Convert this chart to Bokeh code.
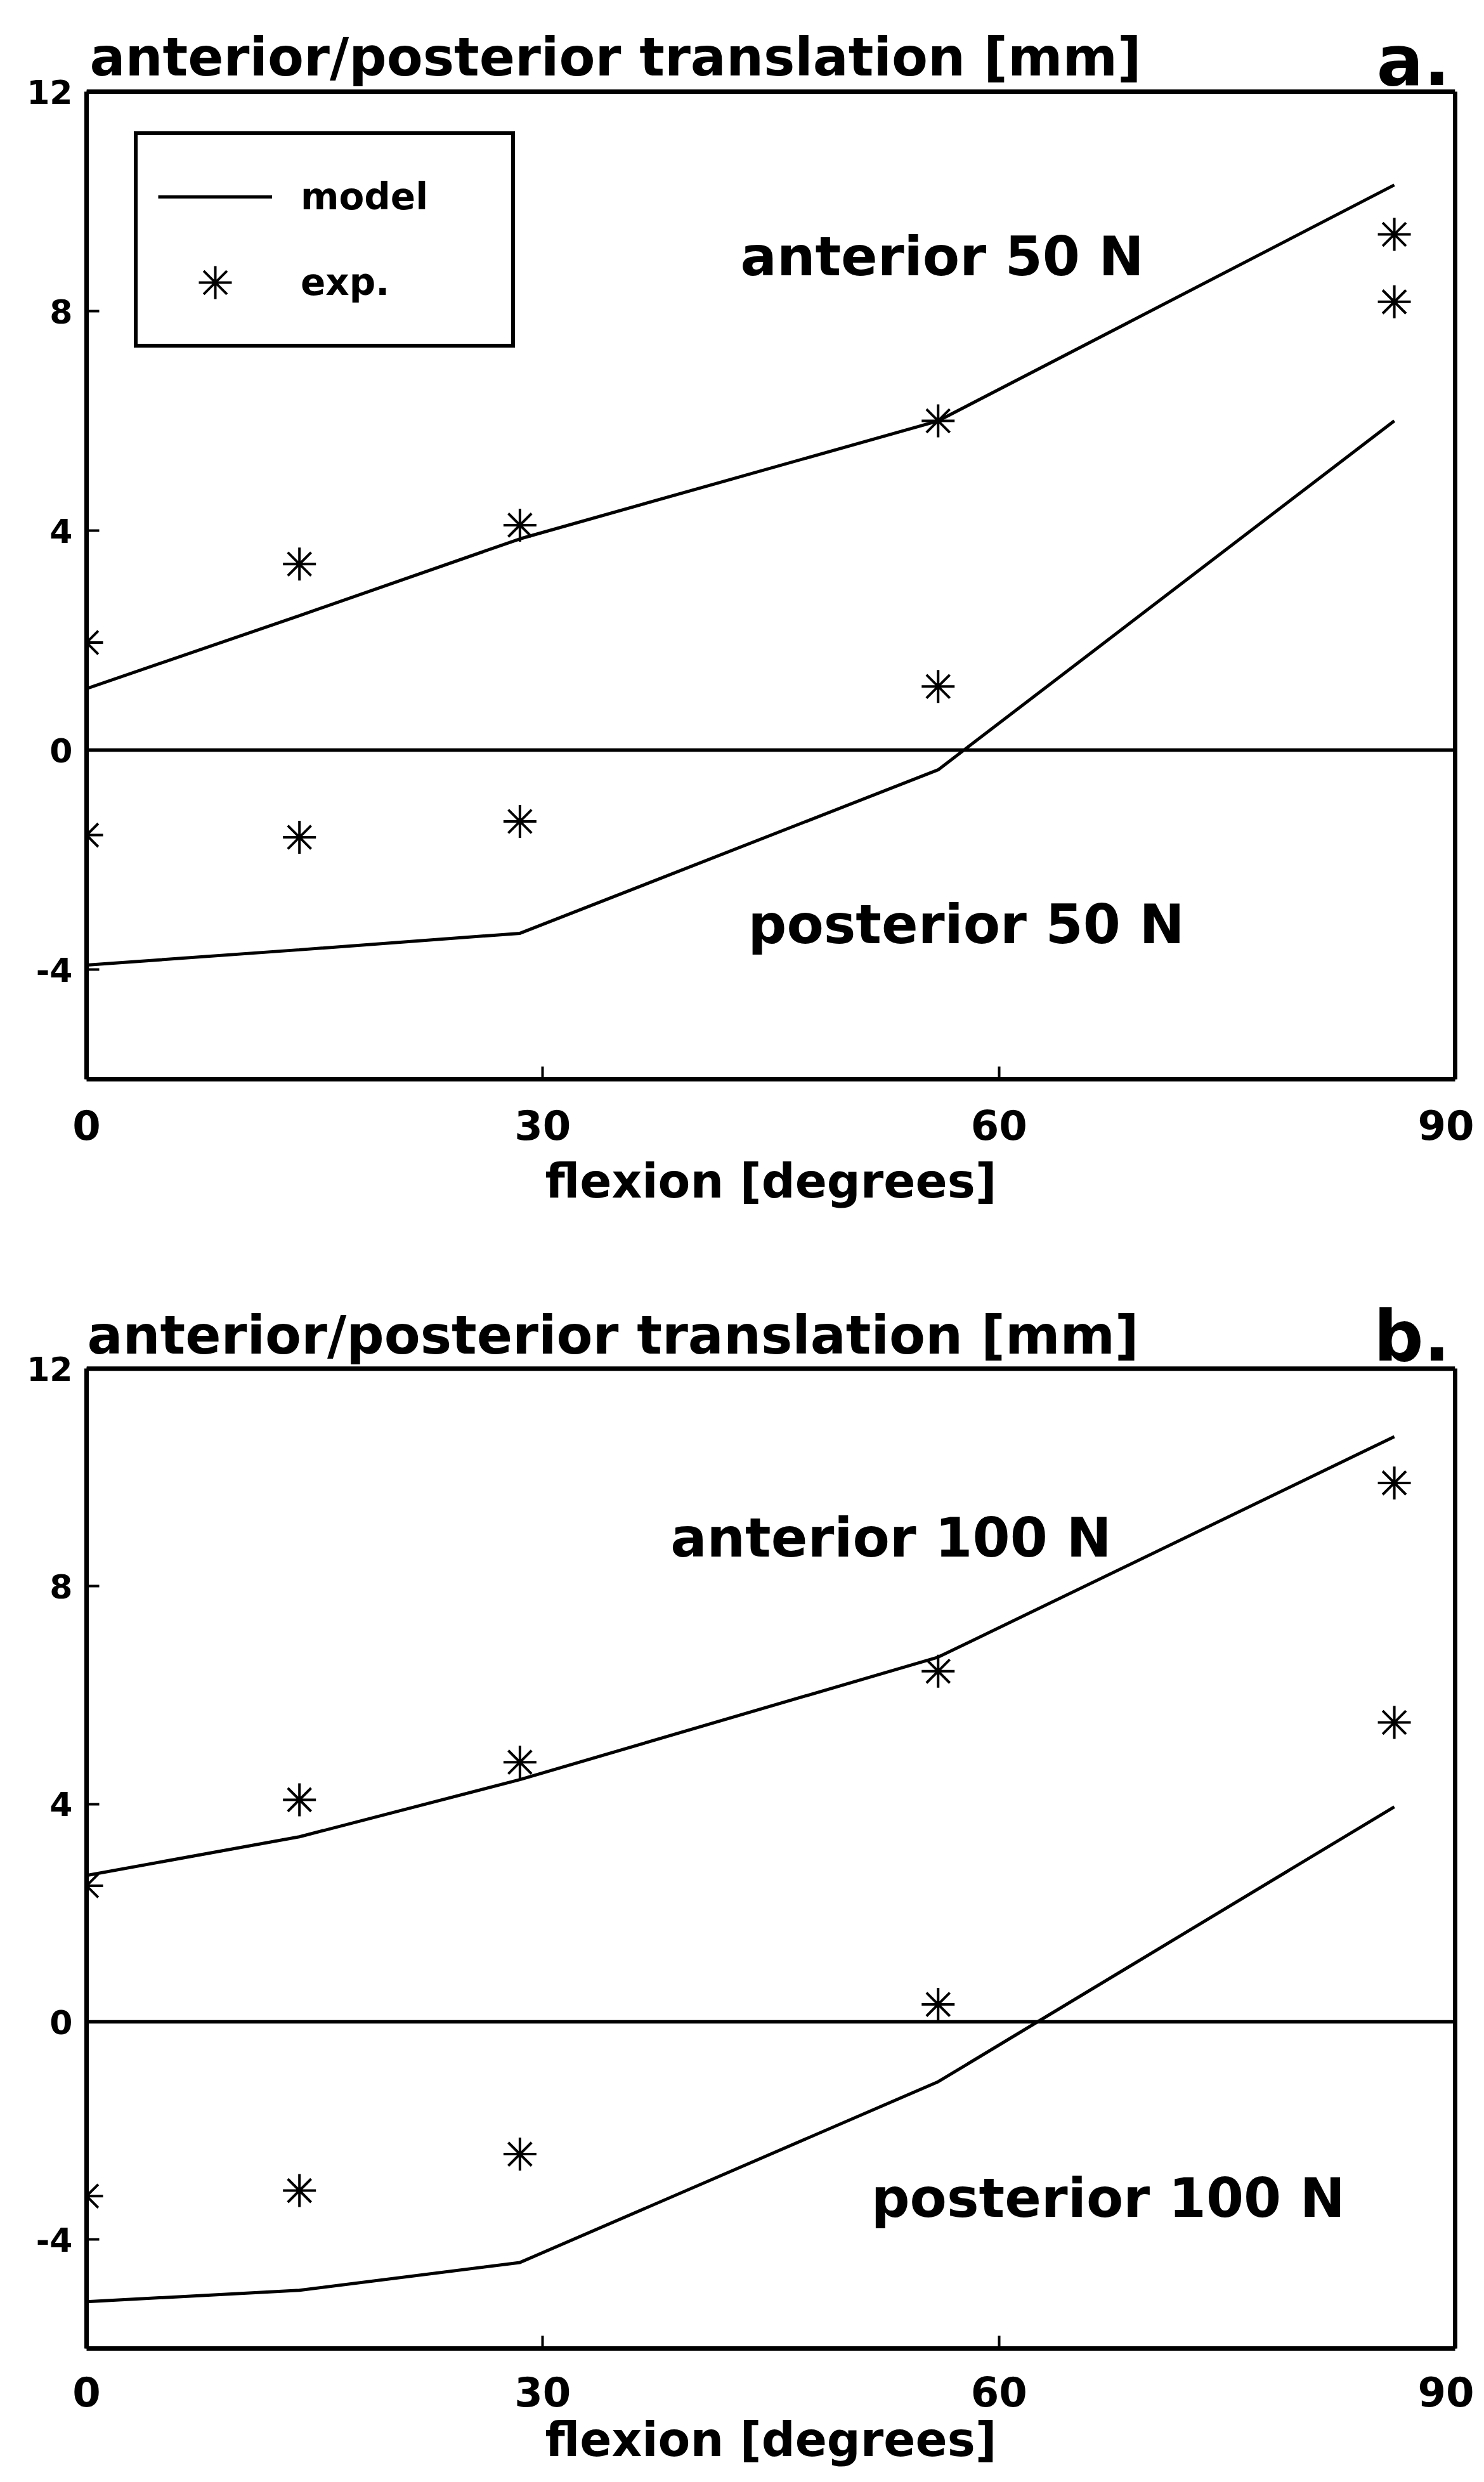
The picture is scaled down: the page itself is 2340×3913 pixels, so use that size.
from bokeh.plotting import figure
from bokeh.models import (Range1d, FixedTicker, Span, Label, Legend, LegendItem,
                          PrintfTickFormatter, LinearAxis)
from bokeh.layouts import column
from bokeh.embed import file_html
from bokeh.resources import INLINE

# ---------------- data ----------------
flexion = [0, 14, 28.5, 56, 86]          # degrees

# panel a: 50 N
a_ant_model = [1.12, 2.45, 3.85, 6.0, 10.3]
a_post_model = [-3.92, -3.64, -3.34, -0.36, 6.0]
a_ant_exp = [1.96, 3.39, 4.1, 6.0, 9.4]
a_post_exp = [-1.55, -1.59, -1.3, 1.16, 8.17]

# panel b: 100 N
b_ant_model = [2.69, 3.4, 4.45, 6.7, 10.75]
b_post_model = [-5.14, -4.93, -4.42, -1.1, 3.95]
b_ant_exp = [2.5, 4.08, 4.77, 6.44, 9.9]
b_post_exp = [-3.2, -3.1, -2.43, 0.32, 5.5]

x_ticks = [0, 30, 60, 90]
y_ticks = [-4, 0, 4, 8, 12]
y_min, y_max = -6, 12          # the boxed data area
y_title = "anterior/posterior translation [mm]"
x_title = "flexion [degrees]"

FONT = "DejaVu Sans"
BLACK = "#000000"
HEADROOM = 1.4                 # extra space above the box for the heading texts


def make_panel(letter, ant_model, post_model, ant_exp, post_exp,
               ant_text, post_text, ant_pos, post_pos,
               width, height, bl, br, bt, bb, title_dx, title_dy,
               tick_standoff, label_standoff, letter_dy, legend=False):
    p = figure(width=width, height=height, output_backend="svg",
               toolbar_location=None, title=None,
               x_range=Range1d(0, 90), y_range=Range1d(y_min, y_max + HEADROOM),
               min_border_left=bl, min_border_right=br,
               min_border_top=bt, min_border_bottom=bb,
               background_fill_color="white", border_fill_color="white")
    p.grid.visible = False
    p.outline_line_color = None

    # axes
    right_axis = LinearAxis(ticker=FixedTicker(ticks=[]))
    p.add_layout(right_axis, "right")
    for ax in (p.xaxis[0], p.yaxis[0], right_axis):
        ax.axis_line_width = 7
        ax.axis_line_color = BLACK
        ax.major_tick_in = 20
        ax.major_tick_out = 0
        ax.major_tick_line_width = 4
        ax.major_tick_line_color = BLACK
        ax.minor_tick_line_color = None
        ax.major_label_text_font = FONT
        ax.major_label_text_font_style = "bold"
        ax.major_label_text_color = BLACK
        ax.formatter = PrintfTickFormatter(format="%d")
    p.yaxis[0].bounds = (y_min, y_max)
    right_axis.bounds = (y_min, y_max)
    p.xaxis[0].ticker = FixedTicker(ticks=x_ticks)
    p.yaxis[0].ticker = FixedTicker(ticks=y_ticks)
    p.xaxis[0].major_label_text_font_size = "64px"
    p.yaxis[0].major_label_text_font_size = "52px"
    p.xaxis[0].major_label_standoff = tick_standoff
    p.yaxis[0].major_label_standoff = 22
    p.xaxis[0].axis_label = x_title
    p.xaxis[0].axis_label_text_font = FONT
    p.xaxis[0].axis_label_text_font_style = "bold"
    p.xaxis[0].axis_label_text_font_size = "74px"
    p.xaxis[0].axis_label_text_color = BLACK
    p.xaxis[0].axis_label_standoff = label_standoff

    # top edge of the box and the zero line
    p.add_layout(Span(location=y_max, dimension="width", line_color=BLACK, line_width=7))
    p.add_layout(Span(location=0, dimension="width", line_color=BLACK, line_width=5.5))

    # model lines
    l1 = p.line(flexion, ant_model, line_color=BLACK, line_width=5)
    p.line(flexion, post_model, line_color=BLACK, line_width=5)
    # experimental stars
    s1 = p.scatter(flexion, ant_exp, marker="asterisk", size=52,
                   line_color=BLACK, line_width=4)
    p.scatter(flexion, post_exp, marker="asterisk", size=52,
              line_color=BLACK, line_width=4)

    # annotations
    for txt, (xx, yy) in ((ant_text, ant_pos), (post_text, post_pos)):
        p.add_layout(Label(x=xx, y=yy, text=txt, text_font=FONT,
                           text_font_style="bold", text_font_size="85px",
                           text_color=BLACK, text_baseline="alphabetic"))
    # heading: quantity on the left, panel letter on the right
    p.add_layout(Label(x=0, y=y_max, text=y_title, text_font=FONT,
                       text_font_style="bold", text_font_size="83px",
                       text_color=BLACK, text_align="left",
                       text_baseline="bottom", x_offset=title_dx, y_offset=title_dy))
    p.add_layout(Label(x=90, y=y_max, text=letter, text_font=FONT,
                       text_font_style="bold", text_font_size="110px",
                       text_color=BLACK, text_align="right",
                       text_baseline="bottom", x_offset=-8, y_offset=letter_dy))

    if legend:
        lg = Legend(items=[LegendItem(label="model", renderers=[l1]),
                           LegendItem(label="exp.", renderers=[s1])],
                    location=(75, 1153), margin=0, padding=32, spacing=5,
                    glyph_width=180, glyph_height=130, label_height=130,
                    label_width=300, label_standoff=45,
                    label_text_font=FONT, label_text_font_style="bold",
                    label_text_font_size="58px", label_text_color=BLACK,
                    border_line_color=BLACK, border_line_width=6,
                    border_line_alpha=1,
                    background_fill_color="white", background_fill_alpha=1)
        p.add_layout(lg)
    return p


pa = make_panel("a.", a_ant_model, a_post_model, a_ant_exp, a_post_exp,
                "anterior 50 N", "posterior 50 N", (43, 9.0), (43.5, -3.18),
                2324, 1990, 132, 30, 23, 289, 5, 6, 48, 19, -15, legend=True)
pb = make_panel("b.", b_ant_model, b_post_model, b_ant_exp, b_post_exp,
                "anterior 100 N", "posterior 100 N", (38.4, 8.89), (51.6, -3.24),
                2324, 1907, 136, 30, 47, 195, 1, 4, 44, 6, -13)

layout = column(pa, pb, spacing=0)
open("out.html", "w").write(file_html(layout, INLINE))
